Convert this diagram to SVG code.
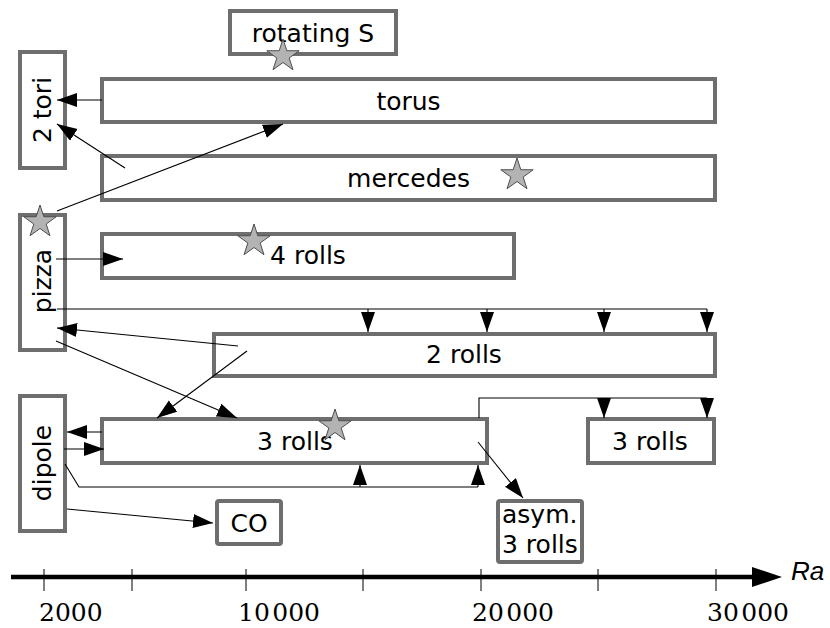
<svg xmlns="http://www.w3.org/2000/svg" xmlns:xlink="http://www.w3.org/1999/xlink" width="830" height="628" viewBox="0 0 830 628">
<style>
  .box { fill: #ffffff; stroke: #6e6e6e; stroke-width: 4; }
  .lbl { font-family: "DejaVu Sans", "Bitstream Vera Sans", sans-serif; font-size: 25px; fill: #000; }
  .mid { text-anchor: middle; }
  .con { fill: none; stroke: #000; stroke-width: 1.1; }
  .tick { stroke: #000; stroke-width: 1; }
  .num { font-family: "DejaVu Serif", serif; font-size: 25px; fill: #000; }
  .star { fill: #b3b3b3; stroke: #4d4d4d; stroke-width: 1; }
</style>
<defs>
  <marker id="ah" markerUnits="userSpaceOnUse" markerWidth="21" markerHeight="15" refX="20" refY="7" orient="auto" viewBox="0 0 21 15">
    <path d="M0,0 L20,7 L0,14 z" fill="#000"/>
  </marker>
  <path id="star" class="star" d="M0,-17 L3.82,-5.26 L16.17,-5.25 L6.18,2.01 L9.99,13.75 L0,6.5 L-9.99,13.75 L-6.18,2.01 L-16.17,-5.25 L-3.82,-5.26 Z"/>
</defs>
<rect width="830" height="628" fill="#ffffff"/>

<g id="node-rotatingS"><rect class="box" x="230" y="11" width="166" height="43"/><text class="lbl mid" x="313" y="42">rotating S</text></g>
<g id="node-2tori"><rect class="box" x="20" y="52" width="45" height="116"/><text class="lbl mid" transform="translate(51,110) rotate(-90)">2 tori</text></g>
<g id="node-torus"><rect class="box" x="102" y="79" width="613" height="43"/><text class="lbl mid" x="408.5" y="110">torus</text></g>
<g id="node-mercedes"><rect class="box" x="102" y="156" width="613" height="44"/><text class="lbl mid" x="408.5" y="187">mercedes</text></g>
<g id="node-pizza"><rect class="box" x="20" y="215" width="45" height="135"/><text class="lbl mid" transform="translate(51,281) rotate(-90)">pizza</text></g>
<g id="node-4rolls"><rect class="box" x="102" y="234" width="412" height="44"/><text class="lbl mid" x="308" y="264">4 rolls</text></g>
<g id="node-2rolls"><rect class="box" x="214" y="334" width="501" height="42"/><text class="lbl mid" x="464" y="363">2 rolls</text></g>
<g id="node-dipole"><rect class="box" x="20" y="396" width="45" height="135"/><text class="lbl mid" transform="translate(51,463) rotate(-90)">dipole</text></g>
<g id="node-3rolls"><rect class="box" x="102" y="419" width="385" height="44"/><text class="lbl mid" x="295" y="450">3 rolls</text></g>
<g id="node-3rolls-b"><rect class="box" x="588" y="419" width="126" height="44"/><text class="lbl mid" x="650" y="450">3 rolls</text></g>
<g id="node-CO"><rect class="box" x="217" y="501" width="64" height="43" rx="2"/><text class="lbl mid" x="249" y="532">CO</text></g>
<g id="node-asym"><rect class="box" x="498" y="501" width="84" height="61" rx="2"/><text class="lbl" x="502" y="523">asym.</text><text class="lbl" x="502" y="553">3 rolls</text></g>

<g id="connectors">
  <line class="con" x1="102" y1="100" x2="57" y2="100" marker-end="url(#ah)"/>
  <line class="con" x1="125" y1="168" x2="57" y2="124" marker-end="url(#ah)"/>
  <line class="con" x1="57" y1="211" x2="283" y2="124" marker-end="url(#ah)"/>
  <line class="con" x1="56" y1="259" x2="123" y2="259" marker-end="url(#ah)"/>
  <polyline class="con" points="57,309 707,309"/>
  <line class="con" x1="368" y1="309" x2="368" y2="332" marker-end="url(#ah)"/>
  <line class="con" x1="487" y1="309" x2="487" y2="332" marker-end="url(#ah)"/>
  <line class="con" x1="604" y1="309" x2="604" y2="332" marker-end="url(#ah)"/>
  <line class="con" x1="707" y1="309" x2="707" y2="332" marker-end="url(#ah)"/>
  <line class="con" x1="238" y1="346" x2="57" y2="328" marker-end="url(#ah)"/>
  <line class="con" x1="247" y1="351" x2="157" y2="418" marker-end="url(#ah)"/>
  <line class="con" x1="56" y1="341" x2="237" y2="418" marker-end="url(#ah)"/>
  <polyline class="con" points="479,418 479,398 707,398"/>
  <line class="con" x1="604" y1="398" x2="604" y2="418" marker-end="url(#ah)"/>
  <line class="con" x1="707" y1="398" x2="707" y2="418" marker-end="url(#ah)"/>
  <line class="con" x1="102" y1="432" x2="67" y2="432" marker-end="url(#ah)"/>
  <line class="con" x1="64" y1="449" x2="104" y2="449" marker-end="url(#ah)"/>
  <polyline class="con" points="65,464 79,487 478,487"/>
  <line class="con" x1="360" y1="487" x2="360" y2="465" marker-end="url(#ah)"/>
  <line class="con" x1="478" y1="487" x2="478" y2="465" marker-end="url(#ah)"/>
  <line class="con" x1="67" y1="509" x2="213" y2="523" marker-end="url(#ah)"/>
  <line class="con" x1="478" y1="442" x2="523" y2="498" marker-end="url(#ah)"/>
</g>

<g id="stars">
  <use xlink:href="#star" x="283" y="56"/>
  <use xlink:href="#star" x="517" y="175"/>
  <use xlink:href="#star" x="40" y="222"/>
  <use xlink:href="#star" x="254" y="241"/>
  <use xlink:href="#star" x="335" y="426"/>
</g>

<g id="axis">
  <line x1="11" y1="577" x2="755" y2="577" stroke="#000" stroke-width="4.5"/>
  <polygon points="752,567 782,577 752,587" fill="#000"/>
  <line class="tick" x1="44" y1="569" x2="44" y2="591"/>
  <line class="tick" x1="132" y1="569" x2="132" y2="591"/>
  <line class="tick" x1="246" y1="569" x2="246" y2="591"/>
  <line class="tick" x1="363" y1="569" x2="363" y2="591"/>
  <line class="tick" x1="481" y1="569" x2="481" y2="591"/>
  <line class="tick" x1="598" y1="569" x2="598" y2="591"/>
  <line class="tick" x1="716" y1="569" x2="716" y2="591"/>
  <text class="num" x="39" y="621">2000</text>
  <text class="num" x="238" y="621">10&#8202;000</text>
  <text class="num" x="472" y="621">20&#8202;000</text>
  <text class="num" x="707" y="621">30&#8202;000</text>
  <text x="791" y="580" font-family="Liberation Sans, Arial, sans-serif" font-style="italic" font-size="26">Ra</text>
</g>
</svg>
